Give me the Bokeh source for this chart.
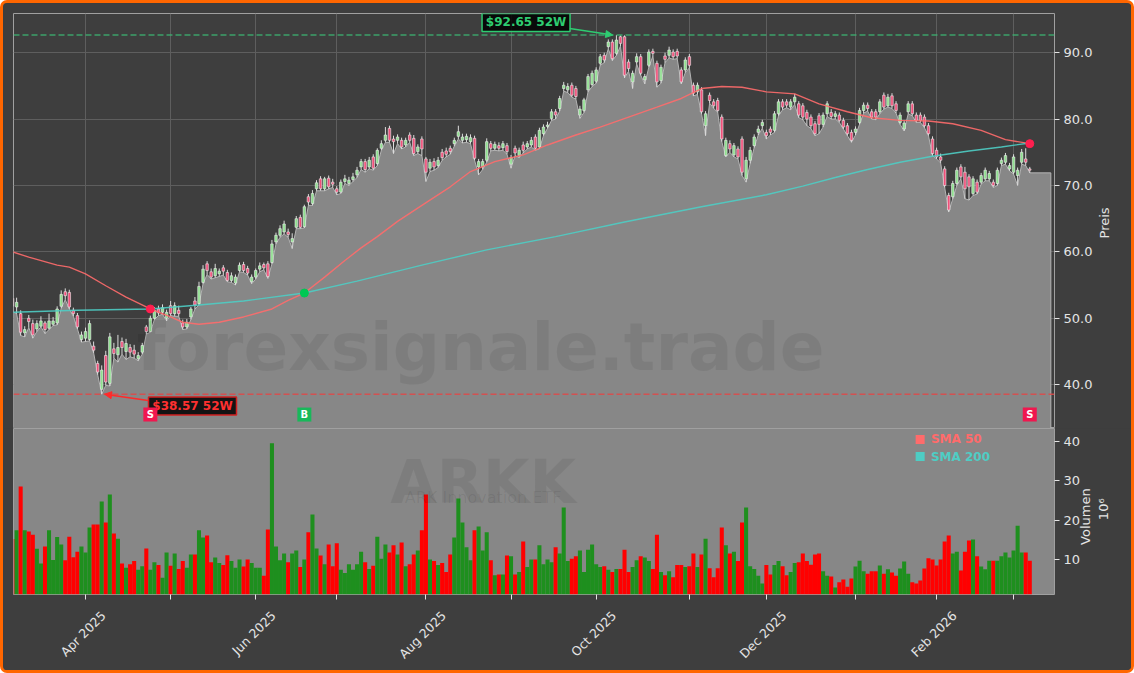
import math
from bokeh.plotting import figure
from bokeh.layouts import column
from bokeh.models import (Range1d, FixedTicker, ColumnDataSource, Span, Label,
                          Arrow, NormalHead, PrintfTickFormatter)
from bokeh.embed import file_html
from bokeh.resources import INLINE
from bokeh.core.properties import value

# ---------------- data (trading-day index 0 = 6 Mar 2025) ----------------
open_ = [
    53.0, 51.7, 50.7, 47.8, 50.0, 49.2, 48.4, 48.8, 49.3, 48.5,
    49.1, 49.3, 51.8, 54.0, 53.9, 51.2, 50.4, 46.8, 47.0, 46.8,
    45.8, 43.2, 39.3, 44.4, 40.2, 45.4, 44.5, 46.5, 45.0, 45.6,
    45.2, 43.9, 44.9, 48.7, 48.0, 50.0, 51.4, 50.9, 50.0, 51.9,
    50.7, 51.2, 49.3, 48.7, 50.2, 52.6, 52.2, 55.4, 58.2, 57.0,
    56.4, 56.7, 57.6, 56.9, 55.7, 55.3, 57.2, 58.1, 57.5, 55.5,
    56.2, 57.4, 58.1, 58.2, 58.4, 61.5, 62.5, 63.0, 63.0, 61.5,
    63.7, 65.2, 63.8, 68.3, 67.3, 69.5, 71.0, 69.5, 71.1, 70.5,
    69.5, 69.0, 70.6, 70.3, 70.9, 71.6, 72.8, 73.6, 72.8, 74.3,
    73.3, 75.6, 76.8, 78.6, 77.0, 76.8, 76.8, 76.1, 77.6, 77.1,
    75.1, 77.0, 74.0, 72.6, 73.6, 73.0, 75.0, 75.2, 75.6, 76.3,
    77.4, 76.8, 76.9, 76.6, 77.1, 72.8, 72.8, 73.8, 76.3, 75.6,
    76.0, 75.7, 76.0, 73.2, 75.6, 74.5, 76.1, 75.8, 76.1, 77.3,
    75.8, 77.8, 78.9, 80.1, 81.1, 81.6, 84.6, 84.4, 85.1, 84.6,
    80.6, 81.3, 84.4, 85.2, 85.7, 88.4, 89.6, 90.9, 91.6, 89.9,
    92.4, 92.4, 88.6, 85.6, 88.6, 89.4, 85.9, 88.1, 90.2, 88.4,
    85.8, 89.5, 89.6, 90.1, 90.2, 87.4, 87.4, 89.4, 85.1, 84.1,
    84.4, 79.0, 83.6, 82.6, 82.8, 80.3, 74.5, 76.3, 74.6, 75.5,
    77.0, 71.0, 73.8, 76.0, 78.0, 79.0, 78.0, 78.5, 78.3, 80.8,
    82.6, 82.6, 81.8, 82.6, 82.3, 82.0, 81.0, 80.3, 79.3, 80.5,
    79.2, 80.8, 81.0, 80.4, 80.6, 79.8, 79.0, 78.0, 78.0, 79.5,
    81.3, 82.1, 81.1, 81.1, 81.1, 83.6, 82.0, 83.5, 82.3, 79.5,
    78.5, 81.1, 82.3, 80.6, 80.6, 80.3, 79.0, 77.0, 75.3, 74.3,
    72.5, 68.5, 68.3, 70.3, 72.8, 72.0, 71.3, 68.8, 70.5, 70.5,
    71.0, 71.0, 70.5, 70.3, 73.3, 73.5, 72.5, 72.0, 71.5, 73.5,
    74.0, 72.5]
high = [
    53.5, 53.1, 51.2, 48.8, 50.5, 49.8, 49.7, 50.3, 49.6, 50.7,
    50.2, 51.8, 54.2, 54.5, 54.3, 51.6, 50.8, 48.0, 48.6, 49.7,
    46.5, 43.6, 42.9, 45.1, 47.8, 46.3, 47.5, 47.1, 46.9, 46.1,
    46.0, 44.9, 46.3, 49.0, 50.4, 51.7, 51.9, 52.1, 51.3, 52.6,
    52.4, 51.9, 49.8, 49.9, 51.7, 53.2, 55.5, 58.0, 58.6, 57.5,
    58.2, 57.5, 58.0, 57.3, 56.9, 56.6, 58.4, 58.5, 57.9, 56.6,
    57.5, 58.4, 58.4, 58.6, 61.8, 62.9, 64.0, 64.7, 63.5, 62.8,
    65.4, 65.6, 67.1, 68.7, 69.3, 70.8, 71.4, 71.3, 71.5, 71.0,
    69.9, 70.9, 71.6, 71.3, 71.9, 72.8, 74.0, 74.0, 74.3, 74.7,
    75.6, 76.8, 78.8, 79.0, 77.5, 77.7, 77.2, 77.2, 78.0, 77.6,
    76.2, 77.4, 74.3, 74.0, 74.1, 74.3, 75.5, 75.7, 76.0, 77.2,
    79.0, 77.8, 77.8, 77.7, 77.5, 74.0, 74.0, 77.1, 76.7, 76.6,
    76.5, 76.7, 76.4, 74.6, 76.0, 75.7, 76.6, 76.7, 77.3, 77.7,
    78.7, 79.2, 79.6, 81.5, 81.5, 83.5, 85.6, 85.4, 85.5, 85.0,
    82.0, 83.2, 86.8, 87.3, 87.8, 89.8, 90.0, 92.0, 92.0, 92.65,
    92.6, 92.6, 89.0, 87.3, 89.9, 89.8, 86.8, 90.5, 90.6, 88.8,
    88.2, 90.0, 90.9, 90.5, 90.6, 87.8, 89.3, 89.8, 85.5, 85.5,
    84.8, 81.2, 84.0, 83.0, 83.2, 80.7, 77.2, 76.8, 76.4, 75.9,
    77.4, 74.3, 75.8, 77.7, 79.0, 79.9, 78.4, 78.9, 81.2, 83.0,
    83.0, 83.0, 83.0, 83.8, 82.7, 82.4, 81.4, 80.7, 79.7, 80.9,
    81.0, 82.7, 81.5, 81.2, 81.0, 80.2, 79.4, 78.4, 78.9, 81.7,
    82.5, 82.5, 81.5, 81.5, 83.0, 84.0, 83.8, 83.9, 82.7, 81.0,
    79.8, 82.7, 82.7, 81.0, 81.0, 80.7, 79.4, 77.4, 75.7, 74.8,
    72.9, 68.9, 70.7, 72.7, 73.2, 72.8, 71.7, 71.4, 70.9, 71.9,
    72.7, 72.2, 70.9, 72.7, 74.2, 74.9, 73.4, 74.7, 72.7, 75.5,
    75.6, 72.8]
low = [
    51.0, 50.7, 47.4, 47.2, 48.6, 47.0, 48.0, 48.7, 47.7, 48.3,
    48.9, 49.0, 51.5, 52.8, 51.4, 50.3, 48.4, 46.4, 46.5, 46.6,
    44.8, 41.5, 38.57, 39.9, 39.8, 44.0, 43.4, 44.6, 43.8, 44.2,
    44.0, 43.6, 44.6, 47.6, 47.9, 49.8, 50.4, 50.6, 49.6, 50.4,
    50.3, 50.3, 48.3, 48.4, 49.8, 51.4, 52.0, 55.2, 56.6, 55.9,
    56.1, 56.3, 56.5, 55.5, 55.4, 55.0, 57.0, 56.9, 56.5, 55.2,
    55.9, 57.0, 57.3, 56.0, 58.2, 61.2, 62.2, 62.7, 62.2, 60.5,
    63.5, 63.5, 63.6, 67.0, 67.0, 69.2, 69.2, 69.2, 69.5, 69.7,
    68.6, 68.8, 70.3, 70.0, 70.6, 71.2, 72.4, 72.0, 72.5, 72.3,
    73.0, 75.3, 76.5, 76.5, 74.8, 76.3, 75.5, 75.8, 76.5, 74.5,
    74.8, 74.5, 70.6, 72.1, 72.3, 72.7, 73.8, 74.3, 74.7, 75.9,
    77.0, 76.4, 76.5, 76.3, 73.8, 71.6, 72.4, 73.5, 75.2, 75.3,
    75.2, 75.3, 74.7, 72.6, 74.5, 74.2, 74.9, 75.5, 75.8, 75.3,
    75.5, 77.5, 78.6, 79.8, 80.0, 81.2, 84.2, 84.0, 83.3, 83.0,
    80.1, 81.0, 84.1, 84.9, 85.4, 88.1, 88.5, 90.6, 88.8, 89.6,
    91.0, 86.2, 87.2, 84.6, 88.3, 86.6, 85.3, 87.8, 89.5, 84.8,
    85.4, 88.5, 89.2, 89.0, 89.1, 85.3, 87.0, 87.7, 83.5, 83.7,
    80.8, 77.5, 82.4, 81.6, 81.0, 76.6, 74.3, 75.0, 74.3, 74.0,
    71.5, 70.5, 73.3, 75.7, 77.6, 78.6, 77.0, 77.6, 78.0, 80.5,
    81.4, 81.7, 81.4, 82.2, 80.2, 79.9, 79.0, 78.6, 77.5, 77.8,
    78.8, 80.4, 80.0, 80.0, 79.5, 78.5, 77.5, 76.5, 77.6, 79.2,
    80.9, 81.2, 80.0, 79.9, 80.8, 81.5, 81.8, 81.6, 80.9, 79.2,
    78.2, 80.8, 80.5, 79.5, 79.5, 78.7, 77.5, 74.5, 74.0, 73.4,
    69.7, 66.0, 68.0, 70.0, 71.0, 68.0, 67.8, 68.5, 68.7, 70.2,
    70.7, 70.7, 69.7, 70.0, 73.0, 73.2, 72.2, 71.7, 70.0, 73.2,
    73.0, 71.9]
close = [
    51.8, 52.4, 47.9, 48.3, 49.5, 47.5, 49.2, 49.6, 48.3, 49.6,
    49.6, 51.4, 53.6, 53.4, 51.7, 50.7, 48.7, 47.5, 48.0, 49.2,
    45.2, 41.9, 42.2, 40.4, 47.2, 44.7, 45.6, 45.6, 46.2, 44.9,
    44.6, 44.4, 45.9, 48.0, 50.0, 51.2, 50.8, 51.6, 50.9, 50.7,
    51.9, 50.7, 48.7, 49.4, 51.4, 52.0, 54.8, 57.4, 57.2, 56.2,
    57.5, 57.1, 57.1, 55.7, 56.4, 56.2, 58.0, 57.2, 56.8, 56.2,
    57.2, 57.9, 57.6, 56.3, 61.2, 62.5, 63.5, 64.2, 62.6, 62.0,
    65.0, 63.7, 66.8, 67.5, 68.8, 70.4, 69.5, 71.0, 69.8, 70.2,
    69.0, 70.5, 71.0, 70.8, 71.3, 72.3, 73.6, 72.4, 73.8, 72.6,
    75.3, 76.3, 77.6, 76.8, 76.6, 77.3, 75.8, 76.8, 76.8, 74.8,
    75.8, 75.5, 72.0, 73.5, 72.8, 73.8, 74.2, 74.7, 75.1, 76.8,
    78.1, 77.3, 77.4, 77.2, 74.1, 73.6, 73.6, 76.6, 75.6, 76.2,
    75.6, 76.3, 75.1, 74.2, 74.9, 75.3, 75.3, 76.3, 76.8, 75.6,
    78.3, 78.8, 79.1, 81.1, 80.6, 83.1, 85.1, 84.9, 83.6, 83.4,
    81.5, 82.9, 86.4, 86.9, 87.4, 89.4, 88.9, 91.6, 89.1, 91.9,
    91.4, 86.6, 87.6, 86.9, 89.4, 86.9, 86.4, 90.1, 89.9, 85.6,
    87.8, 89.0, 90.4, 89.4, 89.5, 85.6, 88.9, 88.1, 83.9, 85.1,
    81.1, 80.8, 82.8, 82.0, 81.3, 77.0, 76.8, 75.5, 76.0, 74.3,
    72.0, 73.8, 75.3, 77.3, 78.5, 79.5, 77.5, 78.0, 80.8, 82.6,
    81.8, 82.1, 82.6, 83.3, 80.6, 80.3, 80.0, 79.0, 77.8, 79.2,
    80.6, 82.3, 80.4, 80.8, 79.8, 78.8, 77.8, 76.8, 78.5, 81.3,
    82.1, 81.6, 80.3, 80.3, 82.6, 81.8, 83.3, 82.0, 81.3, 80.6,
    79.4, 82.3, 80.8, 79.8, 79.8, 79.0, 77.8, 74.8, 74.3, 73.8,
    70.0, 66.3, 70.3, 72.3, 71.3, 69.5, 69.8, 71.0, 69.0, 71.5,
    72.3, 71.8, 70.0, 72.3, 73.8, 74.5, 73.0, 74.3, 72.3, 75.0,
    73.5, 72.3]
volume = [  # millions
    15.2, 17.4, 28.5, 17.4, 17.1, 16.3, 12.7, 9.0, 13.3, 17.4,
    9.9, 15.7, 13.8, 9.8, 15.8, 10.6, 12.0, 13.3, 11.8, 18.1,
    18.9, 18.9, 24.7, 19.4, 26.5, 16.6, 15.3, 9.0, 7.9, 8.8,
    9.6, 7.4, 8.3, 12.8, 7.4, 9.3, 8.6, 5.4, 11.8, 8.4,
    11.5, 7.6, 9.6, 7.9, 11.3, 11.3, 17.4, 15.6, 16.1, 9.3,
    10.5, 9.1, 8.6, 11.1, 9.6, 7.9, 10.0, 8.2, 10.0, 9.1,
    7.9, 7.9, 5.9, 17.6, 39.5, 13.3, 9.8, 11.5, 9.3, 11.5,
    12.3, 8.1, 10.0, 16.9, 21.4, 12.8, 11.0, 8.8, 13.8, 8.3,
    14.1, 7.4, 6.6, 8.8, 7.4, 8.8, 12.0, 9.3, 7.6, 8.4,
    15.8, 10.2, 13.8, 11.8, 13.6, 11.3, 14.3, 8.3, 8.8, 11.3,
    12.3, 17.4, 26.5, 10.0, 9.6, 8.6, 9.1, 6.8, 11.3, 15.6,
    25.5, 19.4, 13.1, 9.8, 17.4, 18.4, 12.3, 16.9, 9.8, 6.0,
    6.2, 6.2, 11.0, 10.8, 6.2, 6.8, 14.6, 8.1, 10.0, 10.0,
    13.6, 8.8, 10.0, 9.3, 13.1, 11.5, 23.2, 9.6, 10.2, 10.8,
    12.3, 6.8, 12.5, 13.8, 8.8, 8.1, 8.3, 7.4, 6.8, 7.6,
    7.6, 12.5, 6.8, 8.1, 9.8, 10.8, 10.5, 9.6, 7.6, 16.3,
    6.8, 6.0, 7.0, 5.5, 8.6, 8.6, 8.1, 8.3, 11.5, 8.1,
    11.3, 15.3, 7.8, 5.5, 7.8, 18.1, 13.6, 11.5, 12.0, 9.6,
    19.4, 23.2, 8.3, 7.6, 5.9, 3.9, 8.6, 6.2, 8.6, 9.6,
    8.3, 6.0, 6.8, 9.1, 9.3, 11.5, 9.6, 8.7, 11.3, 11.5,
    7.0, 5.9, 5.7, 2.9, 4.2, 4.9, 3.1, 5.2, 8.2, 9.7,
    7.0, 6.4, 7.0, 7.0, 8.5, 6.4, 7.5, 6.7, 5.9, 7.7,
    9.5, 6.4, 4.2, 3.9, 4.7, 7.7, 10.3, 10.0, 8.5, 10.0,
    14.6, 16.1, 11.5, 12.0, 7.2, 12.0, 14.8, 15.1, 10.8, 8.2,
    7.5, 9.7, 9.7, 9.7, 10.8, 11.8, 10.5, 12.3, 18.6, 11.8,
    11.8, 9.7]

sma50_x = [0, 4, 11, 14, 18, 23, 28, 34, 39, 42, 46, 51, 57, 64, 68, 72, 77, 82, 86, 90,
           95, 101, 108, 113, 119, 126, 132, 139, 145, 152, 159, 165, 170, 175, 180, 186,
           193, 199, 206, 212, 219, 226, 232, 239, 245, 251]
sma50_y = [60.0, 59.2, 58.0, 57.7, 56.7, 54.9, 53.2, 51.4, 50.2, 49.4, 49.1, 49.4, 50.2, 51.4,
           52.7, 53.8, 56.2, 58.7, 60.6, 62.3, 64.6, 67.0, 69.8, 72.1, 73.6, 74.6, 76.1, 77.6,
           78.8, 80.3, 81.8, 83.1, 84.6, 84.9, 84.8, 84.1, 83.8, 82.3, 81.1, 80.2, 79.8, 79.7,
           79.3, 78.3, 76.9, 76.3]
sma200_x = [0, 16, 34, 46, 57, 72, 85, 101, 117, 134, 151, 170, 186, 195, 203, 211, 219, 227,
            236, 244, 251]
sma200_y = [50.9, 51.2, 51.4, 52.0, 52.6, 53.8, 55.6, 58.0, 60.3, 62.3, 64.5, 66.8, 68.6, 69.9,
            71.2, 72.4, 73.5, 74.4, 75.2, 75.8, 76.4]

cross_x = [34, 72, 251]
cross_y = [51.4, 53.8, 76.3]
cross_kind = ["death", "golden", "death"]
signal_x = [34, 72, 251]
signal_text = ["S", "B", "S"]

high52, high52_idx = 92.65, 149
low52, low52_idx = 38.57, 22

month_ticks = [18, 39, 60, 80, 102, 123, 144, 167, 186, 208, 228, 247]
month_labels = ["Apr 2025", "", "Jun 2025", "", "Aug 2025", "", "Oct 2025", "",
                "Dec 2025", "", "Feb 2026", ""]
price_ticks = [40, 50, 60, 70, 80, 90]
vol_ticks = [10, 20, 30, 40]

# ---------------- layout constants ----------------
W = 1128
H1, H2 = 425, 242
X0, X1 = 0.23, 257.1
P_LO, P_HI = 33.4, 95.9
V_LO, V_HI = 1.12, 43.25
AREA_END = 256.2
SIGNAL_Y = 35.5
LABEL_SHIFT = 4.4        # rotated month labels are centred on their tick
NB = "\u00a0"            # padding that moves rotated axis titles along the axis

BG = "#3e3e3e"
PANEL_GRAY = "#878787"
TXT = "#e4e4e4"
FONT = "DejaVu Sans"
UP, DOWN = "#8fe08f", "#f0507a"
VUP, VDOWN = "#1e8f1e", "#ff0000"
SMA50_C, SMA200_C = "#ff6b6b", "#4ecdc4"
GRID_C = "#5e5e5e"
FRAME_C = "#a0a0a0"

x = list(range(len(close)))
up = [c >= o for o, c in zip(open_, close)]
src = ColumnDataSource(dict(
    x=x, o=open_, h=high, l=low, c=close, v=volume,
    top=[max(o, c) for o, c in zip(open_, close)],
    bot=[min(o, c) for o, c in zip(open_, close)],
    fill=[UP if u else DOWN for u in up],
    vfill=[VUP if u else VDOWN for u in up],
))
xr = Range1d(X0, X1)

label_at_start = True


def style_right_axis(ax):
    global label_at_start
    ax.major_label_text_color = TXT
    ax.major_label_text_font = FONT
    ax.major_label_text_font_size = "13px"
    ax.major_tick_line_color = TXT
    ax.major_tick_out = 5
    ax.major_tick_in = 0
    ax.minor_tick_line_color = None
    ax.axis_line_color = None
    ax.major_label_standoff = 4
    ax.axis_label_text_color = TXT
    ax.axis_label_text_font = FONT
    ax.axis_label_text_font_size = "13px"
    ax.axis_label_text_font_style = "normal"
    try:
        ax.axis_label_orientation = math.pi / 2
    except Exception:
        pass
    try:
        ax.axis_label_align = "start"
    except Exception:
        label_at_start = False


# ================= price panel =================
p1 = figure(width=W, height=H1, x_range=xr, y_range=Range1d(P_LO, P_HI),
            y_axis_location="right", x_axis_location=None, toolbar_location=None,
            output_backend="svg", min_border_left=10, min_border_top=10,
            min_border_right=77, min_border_bottom=0,
            background_fill_color=BG, border_fill_color=BG,
            outline_line_color=FRAME_C, outline_line_width=1)
ya = p1.yaxis[0]
ya.ticker = FixedTicker(ticks=price_ticks)
ya.formatter = PrintfTickFormatter(format="%.1f")
ya.axis_label_standoff = 9
style_right_axis(ya)
ya.axis_label = (NB * 46 + "Preis") if label_at_start else "Preis"
for g in p1.ygrid:
    g.ticker = FixedTicker(ticks=price_ticks)
    g.grid_line_color = GRID_C
for g in p1.xgrid:
    g.ticker = FixedTicker(ticks=month_ticks)
    g.grid_line_color = GRID_C

# price area (following the lows)
ax_ = x + [AREA_END]
ay_ = low + [low[-1]]
p1.varea(x=ax_, y1=P_LO, y2=ay_, fill_color=PANEL_GRAY)
p1.line(x=ax_ + [AREA_END], y=ay_ + [P_LO], line_color="#b4b4b4", line_width=1)

# candles
p1.segment(x0="x", y0="l", x1="x", y1="h", source=src, line_color="#dcdcdc", line_width=1)
p1.vbar(x="x", width=0.62, top="top", bottom="bot", source=src, fill_color="fill",
        line_color="#eeeeee", line_width=0.6)

# moving averages
p1.line(sma50_x, sma50_y, line_color=SMA50_C, line_width=1.4, line_alpha=0.9)
p1.line(sma200_x, sma200_y, line_color=SMA200_C, line_width=1.4, line_alpha=0.9)

# 52-week lines
p1.add_layout(Span(location=high52, dimension="width", line_color="#3cb371", line_alpha=0.85,
                   line_width=1.5, line_dash="6 3"))
p1.add_layout(Span(location=low52, dimension="width", line_color="#e04848", line_alpha=0.85,
                   line_width=1.5, line_dash="6 3"))

# cross points
p1.scatter(cross_x, cross_y, size=8,
           color=["#ff1f4f" if k == "death" else "#00c853" for k in cross_kind])

# 52-week boxes
lab = ColumnDataSource(dict(
    x=[high52_idx - 22.3, low52_idx + 22.4],
    y=[high52 + 1.9, low52 - 1.78],
    text=[f"${high52:.2f} 52W", f"${low52:.2f} 52W"],
    tc=["#2ecc71", "#ff3030"], lc=["#2ecc71", "#d02020"]))
p1.rect(x="x", y="y", width=88, height=18, width_units="screen", height_units="screen",
        fill_color="black", fill_alpha=0.85, line_color="lc", line_width=1.5, source=lab)
p1.text(x="x", y="y", text="text", text_color="tc", text_font=value(FONT),
        text_font_style="bold", text_font_size="12px", text_align="center",
        text_baseline="middle", source=lab)

# signals
p1.scatter(signal_x, [SIGNAL_Y] * len(signal_x), marker="square", size=14, line_color=None,
           fill_color=["#f0174f" if s == "S" else "#18b85a" for s in signal_text])
p1.text(signal_x, [SIGNAL_Y] * len(signal_x), text=signal_text, text_color="white",
        text_font=value(FONT), text_font_style="bold", text_font_size="10px",
        text_align="center", text_baseline="middle")

p1.add_layout(Arrow(end=NormalHead(size=7, fill_color="#2ecc71", line_color="#2ecc71"),
                    x_start=high52_idx - 11.5, y_start=high52 + 1.0,
                    x_end=high52_idx - 0.9, y_end=high52,
                    line_color="#2ecc71", line_width=1.5))
p1.add_layout(Arrow(end=NormalHead(size=7, fill_color="#ff2a2a", line_color="#ff2a2a"),
                    x_start=low52_idx + 11.5, y_start=low52 - 0.95,
                    x_end=low52_idx + 0.7, y_end=low52,
                    line_color="#ff2a2a", line_width=1.5))

# watermark
p1.add_layout(Label(x=115.5, y=45.6, text="forexsignale.trade", text_align="center",
                    text_baseline="alphabetic", text_font=FONT, text_font_size="66px",
                    text_font_style="bold", text_color="black", text_alpha=0.07))

# ================= volume panel =================
p2 = figure(width=W, height=H2, x_range=xr, y_range=Range1d(V_LO, V_HI),
            y_axis_location="right", toolbar_location=None, output_backend="svg",
            min_border_left=10, min_border_top=0, min_border_right=77, min_border_bottom=76,
            background_fill_color=PANEL_GRAY, border_fill_color=BG,
            outline_line_color=FRAME_C, outline_line_width=1)
yv = p2.yaxis[0]
yv.ticker = FixedTicker(ticks=vol_ticks)
yv.axis_label_standoff = 11
style_right_axis(yv)
yv.axis_label = ((NB * 12 + "Volumen\n" + NB * 18 + "10\u2076") if label_at_start
                 else "Volumen\n10\u2076")
p2.grid.visible = False

xa = p2.xaxis[0]
lab_ticks = [t + LABEL_SHIFT for t, s in zip(month_ticks, month_labels) if s]
xa.ticker = FixedTicker(ticks=lab_ticks, minor_ticks=month_ticks)
xa.major_label_overrides = {t + LABEL_SHIFT: s for t, s in zip(month_ticks, month_labels) if s}
xa.major_label_orientation = math.pi / 4
xa.major_label_text_color = TXT
xa.major_label_text_font = FONT
xa.major_label_text_font_size = "12.5px"
xa.major_label_standoff = 13
xa.major_tick_line_color = None
xa.minor_tick_line_color = TXT
xa.minor_tick_out = 5
xa.minor_tick_in = 0
xa.axis_line_color = None

p2.add_layout(Label(x=116.1, y=29.55, text="ARKK", text_align="center",
                    text_baseline="alphabetic", text_font=FONT, text_font_size="60px",
                    text_font_style="bold", text_color="black", text_alpha=0.07))
p2.add_layout(Label(x=116.1, y=25.74, text="ARK Innovation ETF", text_align="center",
                    text_baseline="alphabetic", text_font=FONT, text_font_size="16px",
                    text_color="black", text_alpha=0.07))

p2.vbar(x="x", width=1.0, top="v", bottom=V_LO, source=src, fill_color="vfill",
        line_color=None)

# legend
p2.scatter([223.95, 223.95], [40.46, 36.14], marker="square", size=9, line_color=None,
           fill_color=[SMA50_C, SMA200_C])
p2.text([226.6, 226.6], [40.46, 36.14], text=["SMA 50", "SMA 200"],
        text_color=[SMA50_C, SMA200_C], text_font=value(FONT), text_font_style="bold",
        text_font_size="12px", text_baseline="middle")

layout = column(p1, p2, spacing=0,
                styles={"border": "3px solid #ff6600", "border-radius": "7px",
                        "background-color": BG, "overflow": "hidden"})

open("out.html", "w").write(file_html(layout, INLINE, title="ARKK"))
